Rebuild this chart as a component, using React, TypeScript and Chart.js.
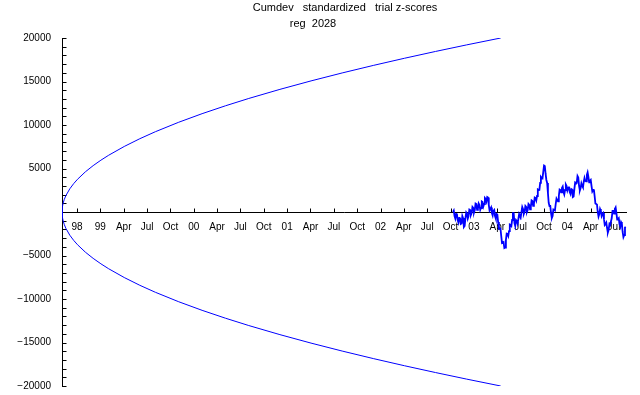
import React, { useEffect, useRef } from 'react';
import { Chart, registerables } from 'chart.js';

Chart.register(...registerables);

const titleLine1 = 'Cumdev   standardized   trial z-scores';
const titleLine2 = 'reg  2028';

// x axis in months, tick every quarter
const xTickMonths = [0, 3, 6, 9, 12, 15, 18, 21, 24, 27, 30, 33, 36, 39, 42, 45, 48, 51, 54, 57, 60, 63, 66, 69];
const xTickLabels = ['98', '99', 'Apr', 'Jul', 'Oct', '00', 'Apr', 'Jul', 'Oct', '01', 'Apr', 'Jul', 'Oct', '02', 'Apr', 'Jul', 'Oct', '03', 'Apr', 'Jul', 'Oct', '04', 'Apr', 'Jul'];
const xMin = -1.93;
const xMax = 70.67;

const yMin = -20000;
const yMax = 20000;
const yMinorStep = 1000;
const yLabelValues = [-20000, -15000, -10000, -5000, 5000, 10000, 15000, 20000];

// probability envelope
const envMonths = [-1.93, -1.88, -1.78, -1.63, -1.43, -0.93, -0.43, 0.07, 1.07, 2.07, 3.07, 4.07, 6.07, 8.07, 10.07, 13.07, 16.07, 19.07, 22.07, 26.07, 30.07, 34.07, 38.07, 42.07, 46.07, 50.07, 54.44];
const envUpper = [0, 596, 1032, 1459, 1884, 2664, 3262, 3767, 4614, 5328, 5956, 6525, 7534, 8424, 9228, 10317, 11302, 12207, 13050, 14095, 15069, 15983, 16848, 17670, 18455, 19209, 20000];
const envLower = [0, -596, -1032, -1459, -1884, -2664, -3262, -3767, -4614, -5328, -5956, -6525, -7534, -8424, -9228, -10317, -11302, -12207, -13050, -14095, -15069, -15983, -16848, -17670, -18455, -19209, -20000];

// cumulative deviation, sampled every 0.1 month from cumStart
const cumStart = 48.31;
const cumStep = 0.1;
const cumdev = [
  0, 170, -460, -750, -230, -180, -920, -1200, -690, -640,
  -1380, -1320, -460, -700, -1730, -1610, -690, -60, -230, -750,
  -460, 290, 230, -350, -120, 570, 460, -60, 230, 980,
  920, 240, 350, 980, 810, 240, 460, 1210, 1150, 640,
  920, 1610, 1500, 1220, 1730, 1670, 810, 180, 350, 520,
  -120, -400, 120, 230, -460, -750, -230, -290, -1150, -1900,
  -1840, -1900, -2760, -3570, -3570, -3460, -4140, -4080, -3220, -2480,
  -2530, -2760, -2190, -1450, -1500, -1610, -920, -120, -120, -1270,
  -1610, -920, -1040, -1330, -810, -240, -460, -630, 0, 580,
  350, -230, 0, 690, 580, 0, 230, 920, 810, 300,
  580, 1330, 1270, 700, 920, 1670, 1610, 1330, 1840, 2590,
  2530, 2540, 3340, 4030, 3910, 3860, 4600, 5350, 5290, 4400,
  3680, 3340, 2190, 1040, 690, 690, -120, -690, -460, 290,
  230, 180, 920, 1550, 1380, 1210, 1840, 2590, 2530, 2250,
  2760, 2930, 2300, 2020, 2530, 3160, 2990, 2480, 2760, 2930,
  2300, 2080, 2650, 2590, 1730, 1790, 2650, 3400, 3340, 3340,
  4140, 3970, 2990, 2480, 2760, 3280, 2990, 2820, 3450, 3910,
  3570, 3520, 4260, 4550, 4030, 3400, 3570, 3680, 2990, 2360,
  2530, 2590, 1840, 980, 920, 860, 0, -520, -230, 350,
  120, -460, -230, -120, -810, -1500, -1380, -1210, -1840, -2360,
  -2070, -1390, -1500, -1500, -690, 120, 120, -170, 350, 520,
  -120, -870, -810, -700, -1380, -1670, -1150, -1330, -2300, -2880,
  -2650, -1790, -1730,
];

const BLUE = '#0000ff';
const FONT = "'Liberation Sans', Arial, sans-serif";

const axesPlugin = {
  id: 'customAxes',
  beforeDatasetsDraw(chart: any) {
    const { ctx, chartArea, scales } = chart;
    const xs = scales.x;
    const ys = scales.y;
    ctx.save();
    ctx.strokeStyle = '#000';
    ctx.lineWidth = 1;
    const left = Math.round(chartArea.left) + 0.5;
    const yTop = Math.round(ys.getPixelForValue(yMax));
    const yBot = Math.round(ys.getPixelForValue(yMin));
    ctx.beginPath();
    ctx.moveTo(left, yTop);
    ctx.lineTo(left, yBot + 1);
    ys.ticks.forEach((t: any) => {
      const py = Math.round(ys.getPixelForValue(t.value)) + 0.5;
      ctx.moveTo(left, py);
      ctx.lineTo(left + 4, py);
    });
    const y0 = Math.round(ys.getPixelForValue(0)) + 0.5;
    ctx.moveTo(left, y0);
    ctx.lineTo(Math.round(chartArea.right), y0);
    xs.ticks.forEach((t: any) => {
      const px = Math.round(xs.getPixelForValue(t.value)) + 0.5;
      ctx.moveTo(px, y0);
      ctx.lineTo(px, y0 - 4);
    });
    ctx.stroke();
    ctx.restore();
  },
  afterDraw(chart: any) {
    const { ctx } = chart;
    ctx.save();
    ctx.fillStyle = '#000';
    ctx.font = `11px ${FONT}`;
    ctx.textAlign = 'center';
    ctx.textBaseline = 'middle';
    ctx.fillText(titleLine1, 345, 8);
    ctx.fillText(titleLine2, 313, 24);
    ctx.restore();
  },
};

export default function App() {
  const ref = useRef<HTMLCanvasElement | null>(null);
  useEffect(() => {
    if (!ref.current) return;
    const upper = envMonths.map((m, i) => ({ x: m, y: envUpper[i] }));
    const lower = envMonths.map((m, i) => ({ x: m, y: envLower[i] }));
    const cum = cumdev.map((v, i) => ({ x: cumStart + i * cumStep, y: v }));
    const chart = new Chart(ref.current, {
      type: 'line',
      data: {
        datasets: [
          { data: upper, borderColor: BLUE, borderWidth: 1, pointRadius: 0, tension: 0, fill: false },
          { data: lower, borderColor: BLUE, borderWidth: 1, pointRadius: 0, tension: 0, fill: false },
          { data: cum, borderColor: BLUE, borderWidth: 1.8, pointRadius: 0, tension: 0, fill: false },
        ],
      },
      options: {
        responsive: false,
        animation: false,
        devicePixelRatio: 1,
        layout: { padding: { top: 38, right: 13, bottom: 9, left: 0 } },
        plugins: { legend: { display: false }, tooltip: { enabled: false }, title: { display: false } },
        scales: {
          x: {
            type: 'linear',
            position: { y: 0 },
            min: xMin,
            max: xMax,
            grid: { display: false, drawTicks: false },
            border: { display: false },
            afterBuildTicks: (s: any) => {
              s.ticks = xTickMonths.map((value) => ({ value }));
            },
            afterFit: (s: any) => {
              s.height = 0;
              s.paddingTop = 0;
              s.paddingBottom = 0;
            },
            ticks: {
              autoSkip: false,
              maxRotation: 0,
              minRotation: 0,
              padding: 9,
              color: '#000',
              font: { size: 10, family: FONT },
              callback: (value: any) => {
                const i = xTickMonths.indexOf(Number(value));
                return i >= 0 ? xTickLabels[i] : '';
              },
            },
          },
          y: {
            type: 'linear',
            position: 'left',
            min: yMin,
            max: yMax,
            grid: { display: false, drawTicks: false },
            border: { display: false },
            afterFit: (s: any) => {
              s.width = 62;
              s.paddingTop = 0;
              s.paddingBottom = 0;
            },
            ticks: {
              stepSize: yMinorStep,
              autoSkip: false,
              padding: 11,
              color: '#000',
              font: { size: 10, family: FONT },
              callback: (value: any) => {
                const v = Number(value);
                if (!yLabelValues.includes(v)) return '';
                return String(v).replace('-', '\u2212');
              },
            },
          },
        },
      },
      plugins: [axesPlugin],
    });
    return () => chart.destroy();
  }, []);
  return (
    <div style={{ position: 'absolute', left: 0, top: 0, width: 640, height: 395, background: '#fff' }}>
      <canvas ref={ref} width={640} height={395} style={{ display: 'block' }} />
    </div>
  );
}
